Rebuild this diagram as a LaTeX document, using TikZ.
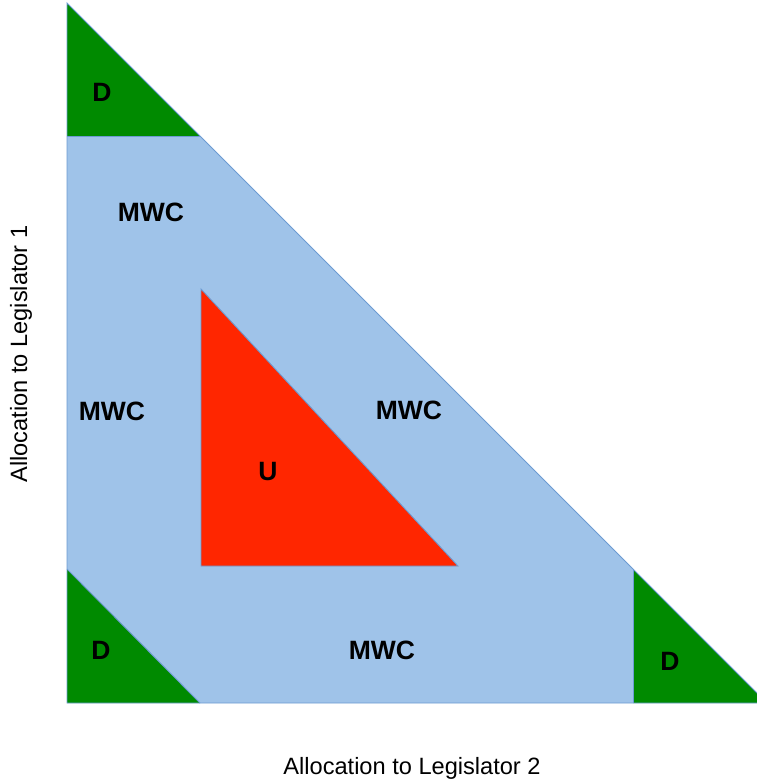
\documentclass[tikz,border=0pt]{standalone}
\usepackage{fontspec}
\setmainfont{Liberation Sans}
\definecolor{mwcblue}{HTML}{9FC3E9}
\definecolor{dgreen}{HTML}{008A00}
\definecolor{ured}{HTML}{FF2600}
\definecolor{edgeblue}{HTML}{6C9BD2}
\tikzset{
  region/.style={draw=edgeblue, line width=0.9pt, line join=miter},
  lab/.style={font=\fontsize{26.5}{30}\selectfont\bfseries, text=black, inner sep=0pt},
  axislab/.style={font=\fontsize{23.6}{27}\selectfont, text=black, inner sep=0pt}
}
\begin{document}
\begin{tikzpicture}[x=1pt,y=-1pt]
\useasboundingbox (0,0) rectangle (757,782);
\begin{scope}
\clip (0,0) rectangle (757,782);
% blue region
\fill[mwcblue] (67,136) -- (200,136) -- (633,569) -- (633,703) -- (200,703) -- (67,569) -- cycle;
% green triangles
\fill[dgreen] (67,3) -- (67,136) -- (200,136) -- cycle;
\fill[dgreen] (67,569) -- (67,703) -- (200,703) -- cycle;
\fill[dgreen] (633,569) -- (633,703) -- (767,703) -- cycle;
% red triangle
\fill[ured] (201,289) -- (201,566) -- (458,566) -- cycle;
% outlines
\draw[region] (67,3) -- (67,703) -- (767,703) -- cycle;
\draw[region] (67,136) -- (200,136);
\draw[region] (67,569) -- (200,703);
\draw[region] (633,569) -- (633,703);
\draw[region] (201,289) -- (201,566) -- (458,566) -- cycle;
\end{scope}
\node[lab] (d1) at (102,92) {D};
\node[lab] (m1) at (151,212) {MWC};
\node[lab] (m2) at (112,411) {MWC};
\node[lab] (m3) at (409,410) {MWC};
\node[lab] (u) at (268,472) {U};
\node[lab] (d2) at (101,650) {D};
\node[lab] (m4) at (382,650) {MWC};
\node[lab] (d3) at (670,661) {D};
\node[axislab] (xl) at (412,768) {Allocation to Legislator 2};
\node[axislab, rotate=90] (yl) at (21,354) {Allocation to Legislator 1};
\end{tikzpicture}
\end{document}
